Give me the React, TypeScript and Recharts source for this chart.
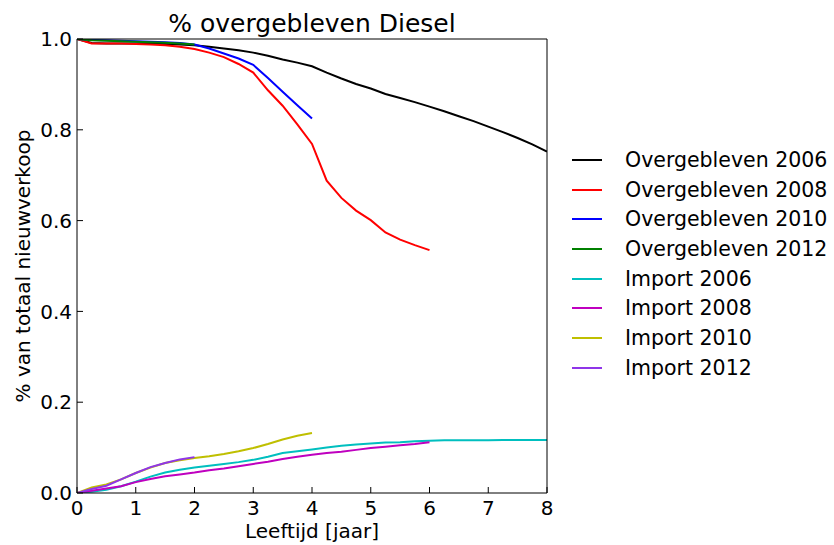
import React from 'react';
import { LineChart, Line, XAxis, YAxis } from 'recharts';

// leeftijd in jaren (kwartalen)
const years = [
  0, 0.25, 0.5, 0.75, 1, 1.25, 1.5, 1.75, 2, 2.25, 2.5, 2.75, 3, 3.25, 3.5, 3.75, 4,
  4.25, 4.5, 4.75, 5, 5.25, 5.5, 5.75, 6, 6.25, 6.5, 6.75, 7, 7.25, 7.5, 7.75, 8,
];

const overgebleven2006 = [
  1.0, 0.991, 0.99, 0.99, 0.99, 0.99, 0.989, 0.988, 0.986, 0.983, 0.979, 0.975, 0.97, 0.963, 0.955, 0.948, 0.94,
  0.926, 0.913, 0.901, 0.891, 0.879, 0.87, 0.861, 0.851, 0.841, 0.83, 0.819, 0.807, 0.795, 0.782, 0.768, 0.752,
];
const overgebleven2008 = [
  1.0, 0.99, 0.99, 0.99, 0.989, 0.988, 0.986, 0.983, 0.978, 0.97, 0.96, 0.945, 0.926, 0.887, 0.853, 0.812, 0.769,
  0.688, 0.65, 0.622, 0.601, 0.574, 0.558, 0.546, 0.535,
];
const overgebleven2010 = [
  1.0, 0.998, 0.997, 0.996, 0.995, 0.994, 0.993, 0.991, 0.988, 0.979, 0.968, 0.957, 0.943, 0.914, 0.884, 0.854, 0.825,
];
const overgebleven2012 = [1.0, 0.997, 0.996, 0.995, 0.994, 0.993, 0.992, 0.99, 0.988];

const import2006 = [
  0, 0.003, 0.007, 0.015, 0.025, 0.036, 0.045, 0.051, 0.056, 0.06, 0.064, 0.068, 0.073, 0.08, 0.088, 0.092, 0.096,
  0.1, 0.104, 0.107, 0.109, 0.111, 0.112, 0.114, 0.115, 0.116, 0.116, 0.116, 0.116, 0.117, 0.117, 0.117, 0.117,
];
const import2008 = [
  0, 0.005, 0.01, 0.015, 0.024, 0.031, 0.037, 0.041, 0.045, 0.05, 0.054, 0.059, 0.064, 0.069, 0.075, 0.08, 0.084,
  0.088, 0.091, 0.095, 0.099, 0.102, 0.105, 0.108, 0.112,
];
const import2010 = [
  0, 0.012, 0.019, 0.03, 0.044, 0.056, 0.066, 0.072, 0.077, 0.081, 0.086, 0.092, 0.099, 0.108, 0.118, 0.126, 0.132,
];
const import2012 = [0, 0.009, 0.016, 0.03, 0.044, 0.057, 0.066, 0.074, 0.079];

const xTicks = [0, 1, 2, 3, 4, 5, 6, 7, 8];
const yTicks = [0, 0.2, 0.4, 0.6, 0.8, 1.0];

// "frame" = series drawn on the top/right axes (same scale), so those axes get rendered too
const series = [
  { key: 'Overgebleven 2006', values: overgebleven2006, color: '#000000', frame: true },
  { key: 'Overgebleven 2008', values: overgebleven2008, color: '#ff0000', frame: true },
  { key: 'Overgebleven 2010', values: overgebleven2010, color: '#0000ff', frame: true },
  { key: 'Overgebleven 2012', values: overgebleven2012, color: '#008000', frame: true },
  { key: 'Import 2006', values: import2006, color: '#00bfbf', frame: false },
  { key: 'Import 2008', values: import2008, color: '#bf00bf', frame: false },
  { key: 'Import 2010', values: import2010, color: '#bfbf00', frame: false },
  { key: 'Import 2012', values: import2012, color: '#8f35e8', frame: false },
];

const rows = years.map((x, i) => {
  const row: Record<string, number | null> = { x };
  series.forEach(s => {
    row[s.key] = i < s.values.length ? s.values[i] : null;
  });
  return row;
});

const FONT = '"DejaVu Sans", sans-serif';

const LegendBox = () => (
  <div style={{ position: 'absolute', left: 572, top: 145, fontFamily: FONT, fontSize: 20.5, color: '#000' }}>
    {series.map(s => (
      <div key={s.key} style={{ display: 'flex', alignItems: 'center', height: 29.7 }}>
        <div style={{ width: 30, height: 2, background: s.color, marginRight: 23 }} />
        <span style={{ whiteSpace: 'nowrap' }}>{s.key}</span>
      </div>
    ))}
  </div>
);

export default function App() {
  const tickStyle = { fill: '#000', fontSize: 20, fontFamily: FONT };
  return (
    <div style={{ position: 'absolute', left: 0, top: 0, width: 834, height: 545, background: '#fff', overflow: 'hidden' }}>
      <LineChart
        width={834}
        height={545}
        data={rows}
        margin={{ top: 38, right: 286, bottom: 10, left: 17 }}
      >
        <XAxis
          dataKey="x"
          type="number"
          domain={[0, 8]}
          ticks={xTicks}
          interval={0}
          height={42}
          stroke="#000"
          tickSize={-6}
          tickMargin={14}
          tick={tickStyle}
          tickFormatter={(v) => String(v)}
          allowDataOverflow
        />
        <XAxis
          xAxisId="top"
          dataKey="x"
          type="number"
          orientation="top"
          domain={[0, 8]}
          ticks={xTicks}
          interval={0}
          height={1}
          stroke="#000"
          tickSize={-6}
          tick={false}
          allowDataOverflow
        />
        <YAxis
          type="number"
          domain={[0, 1]}
          ticks={yTicks}
          interval={0}
          width={60}
          stroke="#000"
          tickSize={-6}
          tickMargin={11}
          tick={tickStyle}
          tickFormatter={(v) => Number(v).toFixed(1)}
          allowDataOverflow
        />
        <YAxis
          yAxisId="right"
          type="number"
          orientation="right"
          domain={[0, 1]}
          ticks={yTicks}
          interval={0}
          width={1}
          stroke="#000"
          tickSize={-6}
          tick={false}
          allowDataOverflow
        />
        {series.map(s => (
          <Line
            key={s.key}
            dataKey={s.key}
            xAxisId={s.frame ? 'top' : 0}
            yAxisId={s.frame ? 'right' : 0}
            stroke={s.color}
            strokeWidth={2}
            dot={false}
            activeDot={false}
            type="linear"
            isAnimationActive={false}
          />
        ))}
        <text x={312} y={32} textAnchor="middle" fontSize={25} fontFamily={FONT} fill="#000">
          % overgebleven Diesel
        </text>
        <text x={312} y={538} textAnchor="middle" fontSize={20} fontFamily={FONT} fill="#000">
          Leeftijd [jaar]
        </text>
        <text
          x={30}
          y={266}
          textAnchor="middle"
          fontSize={20}
          fontFamily={FONT}
          fill="#000"
          transform="rotate(-90 30 266)"
        >
          % van totaal nieuwverkoop
        </text>
      </LineChart>
      <LegendBox />
    </div>
  );
}
